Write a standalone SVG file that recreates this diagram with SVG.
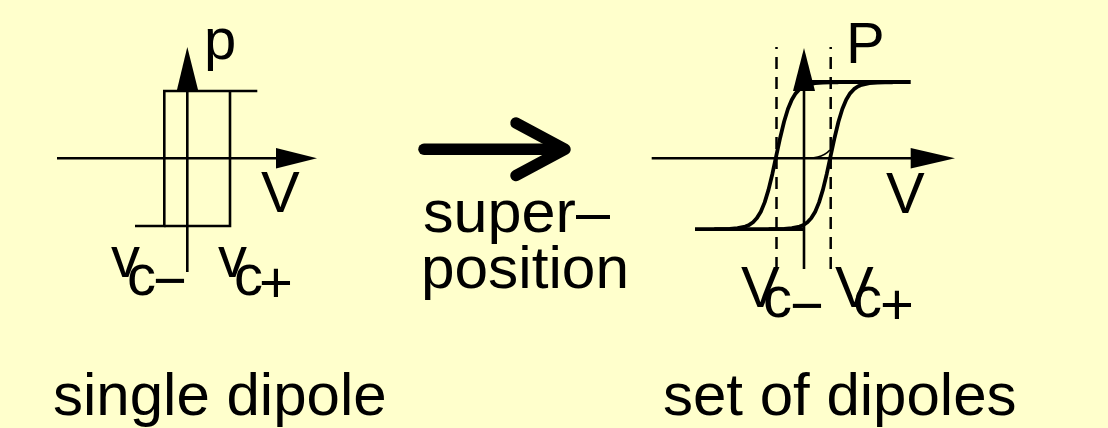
<svg xmlns="http://www.w3.org/2000/svg" xmlns:xlink="http://www.w3.org/1999/xlink" width="1108" height="428" viewBox="0 0 1108 428">
  <style>
    .ax { fill: none; stroke: #000; stroke-width: 2.6; }
    .thick { fill: none; stroke: #000; stroke-width: 3.8; stroke-linejoin: round; stroke-linecap: butt; }
    .thin { fill: none; stroke: #000; stroke-width: 1.5; }
    .dash { fill: none; stroke: #000; stroke-width: 2.5; stroke-dasharray: 12 8; stroke-dashoffset: 10; }
    .head { fill: #000; stroke: none; }
    .t { font-family: "Liberation Sans", Arial, sans-serif; fill: #000; }
    .lbl { font-size: 58px; }
    .big { font-size: 60px; }
  </style>
  <defs>
    <path id="scurve" d="M-62,73.45 L-54.25,73.37 L-46.5,73.14 L-38.75,72.52 L-31,70.85 L-27.13,69.19 L-23.25,66.52 L-19.38,62.35 L-15.5,55.98 L-11.63,46.68 L-7.75,33.96 L-3.88,18 L0,0 L3.88,-18 L7.75,-33.96 L11.63,-46.68 L15.5,-55.98 L19.38,-62.35 L23.25,-66.52 L27.13,-69.19 L31,-70.85 L38.75,-72.52 L46.5,-73.14 L54.25,-73.37 L62,-73.45"/>
  </defs>
  <rect x="0" y="0" width="1108" height="428" fill="#FFFFCC"/>

  <g id="single-dipole">
    <line class="ax" x1="57" y1="158.3" x2="280" y2="158.3"/>
    <polygon class="head" points="276,148 317,158.3 276,168.6"/>
    <line class="ax" x1="187.3" y1="272" x2="187.3" y2="88"/>
    <polygon class="head" points="176.7,91 187.3,47 198.3,91"/>
    <polyline class="ax" points="257.3,91 164.3,91 164.3,226 135,226"/>
    <polyline class="ax" points="230,91 230,226 164.3,226"/>
    <text class="t lbl" x="204" y="58.5">p</text>
    <text class="t lbl" x="261" y="212">V</text>
    <text class="t lbl" x="111" y="276.7">v<tspan x="127" y="294.5">c</tspan><tspan x="153" y="300">−</tspan></text>
    <text class="t lbl" x="218" y="276.7">v<tspan x="234" y="294.5">c</tspan><tspan x="259" y="302">+</tspan></text>
    <text class="t big" x="53" y="415">single dipole</text>
  </g>

  <g id="superposition">
    <line x1="424" y1="149.3" x2="562" y2="149.3" stroke="#000" stroke-width="11.5" stroke-linecap="round"/>
    <polyline points="516,123 565,149.3 516,175.5" fill="none" stroke="#000" stroke-width="11.5" stroke-linecap="round" stroke-linejoin="round"/>
    <text class="t big" x="423" y="231.7" textLength="187" lengthAdjust="spacingAndGlyphs">super–</text>
    <text class="t big" x="421" y="288" textLength="208" lengthAdjust="spacingAndGlyphs">position</text>
  </g>

  <g id="set-of-dipoles">
    <line class="dash" x1="776.5" y1="47" x2="776.5" y2="269"/>
    <line class="dash" x1="830.7" y1="47" x2="830.7" y2="269"/>
    <line class="ax" x1="651.7" y1="158.3" x2="915" y2="158.3"/>
    <polygon class="head" points="910.7,148 955,158.3 910.7,168.6"/>
    <line class="ax" x1="804" y1="269" x2="804" y2="88"/>
    <polygon class="head" points="793,91 804,48 815,91"/>
    <line class="thick" x1="805" y1="82" x2="910.7" y2="82"/>
    <line class="thick" x1="695" y1="229.2" x2="803" y2="229.2"/>
    <use xlink:href="#scurve" href="#scurve" class="thick" transform="translate(830.7,155.7)"/>
    <use xlink:href="#scurve" href="#scurve" class="thick" transform="translate(776.3,155.7)"/>
    <path class="thin" d="M804,158.3 C818,158.3 826,156 832.5,147"/>
    <text class="t lbl" x="846" y="63.3">P</text>
    <text class="t lbl" x="886" y="213">V</text>
    <text class="t lbl" x="741" y="306.7">V<tspan x="763" y="316.5">c</tspan><tspan x="790" y="325">−</tspan></text>
    <text class="t lbl" x="835" y="306.7">V<tspan x="853" y="316.5">c</tspan><tspan x="880" y="324">+</tspan></text>
    <text class="t big" x="663" y="415">set of dipoles</text>
  </g>
</svg>
